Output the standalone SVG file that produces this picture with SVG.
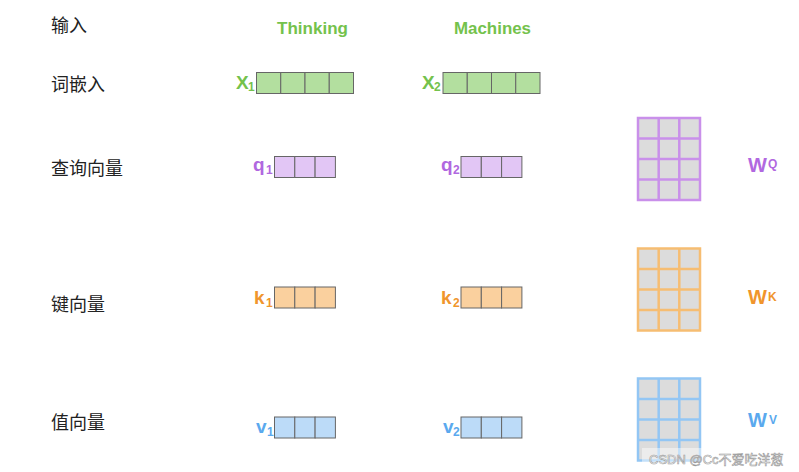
<svg xmlns="http://www.w3.org/2000/svg" width="799" height="472" viewBox="0 0 799 472">
<style>
.lbl{font-family:"Noto Sans CJK SC","Noto Sans",sans-serif;font-size:18px;fill:#222}
.word{font-family:"Liberation Sans",Arial,sans-serif;font-size:17px;font-weight:bold;fill:#74c24c}
.vn{font-family:"Liberation Sans",Arial,sans-serif;font-size:19px;font-weight:bold}
.sub{font-family:"Liberation Sans",Arial,sans-serif;font-size:12px;font-weight:bold}
.wn{font-family:"Liberation Sans",Arial,sans-serif;font-size:20px;font-weight:bold}
.sup{font-family:"Liberation Sans",Arial,sans-serif;font-size:12px;font-weight:bold}
.cell{stroke:#666;stroke-width:1}
.g{fill:#b3df9f}.p{fill:#e2c6f5}.o{fill:#fad09e}.b{fill:#bcdbf8}
.tg{fill:#74c24c}.tp{fill:#b168e0}.to{fill:#f0952c}.tb{fill:#5aa9ee}
.mat{fill:#dcdcdc}
.mp{stroke:#c990ea;stroke-width:2.5;fill:none}
.mo{stroke:#f6bd72;stroke-width:2.5;fill:none}
.mb{stroke:#93c6f4;stroke-width:2.5;fill:none}
</style>
<rect width="799" height="472" fill="#ffffff"/>

<g id="row-labels">
<text class="lbl" x="51" y="32">输入</text>
<text class="lbl" x="51" y="91">词嵌入</text>
<text class="lbl" x="51" y="175">查询向量</text>
<text class="lbl" x="51" y="311">键向量</text>
<text class="lbl" x="51" y="429">值向量</text>
</g>

<g id="word-thinking"><text class="word" x="277" y="34" textLength="71" lengthAdjust="spacingAndGlyphs">Thinking</text></g>
<g id="word-machines"><text class="word" x="454" y="34" textLength="77" lengthAdjust="spacingAndGlyphs">Machines</text></g>

<g id="x1">
<text class="vn tg" x="236" y="89">X</text><text class="sub tg" x="248" y="91">1</text>
<rect class="cell g" x="256.5" y="72.5" width="24.25" height="21"/>
<rect class="cell g" x="280.75" y="72.5" width="24.25" height="21"/>
<rect class="cell g" x="305" y="72.5" width="24.25" height="21"/>
<rect class="cell g" x="329.25" y="72.5" width="24.25" height="21"/>
</g>
<g id="x2">
<text class="vn tg" x="422" y="89">X</text><text class="sub tg" x="434" y="91">2</text>
<rect class="cell g" x="443" y="72.5" width="24.25" height="21"/>
<rect class="cell g" x="467.25" y="72.5" width="24.25" height="21"/>
<rect class="cell g" x="491.5" y="72.5" width="24.25" height="21"/>
<rect class="cell g" x="515.75" y="72.5" width="24.25" height="21"/>
</g>

<g id="q1">
<text class="vn tp" x="253" y="171">q</text><text class="sub tp" x="266" y="174">1</text>
<rect class="cell p" x="274.5" y="156.5" width="20.3" height="21"/>
<rect class="cell p" x="294.8" y="156.5" width="20.3" height="21"/>
<rect class="cell p" x="315.1" y="156.5" width="20.3" height="21"/>
</g>
<g id="q2">
<text class="vn tp" x="441" y="171">q</text><text class="sub tp" x="453" y="174">2</text>
<rect class="cell p" x="461" y="156.5" width="20.3" height="21"/>
<rect class="cell p" x="481.3" y="156.5" width="20.3" height="21"/>
<rect class="cell p" x="501.6" y="156.5" width="20.3" height="21"/>
</g>

<g id="k1">
<text class="vn to" x="254" y="304">k</text><text class="sub to" x="266" y="307">1</text>
<rect class="cell o" x="274.5" y="287" width="20.3" height="21"/>
<rect class="cell o" x="294.8" y="287" width="20.3" height="21"/>
<rect class="cell o" x="315.1" y="287" width="20.3" height="21"/>
</g>
<g id="k2">
<text class="vn to" x="441" y="304">k</text><text class="sub to" x="453" y="307">2</text>
<rect class="cell o" x="461" y="287" width="20.3" height="21"/>
<rect class="cell o" x="481.3" y="287" width="20.3" height="21"/>
<rect class="cell o" x="501.6" y="287" width="20.3" height="21"/>
</g>

<g id="v1">
<text class="vn tb" x="256" y="433">v</text><text class="sub tb" x="267" y="436">1</text>
<rect class="cell b" x="274.5" y="417" width="20.3" height="21"/>
<rect class="cell b" x="294.8" y="417" width="20.3" height="21"/>
<rect class="cell b" x="315.1" y="417" width="20.3" height="21"/>
</g>
<g id="v2">
<text class="vn tb" x="443" y="433">v</text><text class="sub tb" x="453" y="436">2</text>
<rect class="cell b" x="461" y="417" width="20.3" height="21"/>
<rect class="cell b" x="481.3" y="417" width="20.3" height="21"/>
<rect class="cell b" x="501.6" y="417" width="20.3" height="21"/>
</g>

<g id="wq">
<rect class="mat" x="638" y="118" width="62" height="82"/>
<path class="mp" d="M638,118H700V200H638Z M658.7,118V200 M679.3,118V200 M638,138.5H700 M638,159H700 M638,179.5H700"/>
<text class="wn tp" x="748" y="172">W</text><text class="sup tp" x="768" y="168">Q</text>
</g>
<g id="wk">
<rect class="mat" x="638" y="248.5" width="62" height="82"/>
<path class="mo" d="M638,248.5H700V330.5H638Z M658.7,248.5V330.5 M679.3,248.5V330.5 M638,269H700 M638,289.5H700 M638,310H700"/>
<text class="wn to" x="748" y="304">W</text><text class="sup to" x="768" y="301">K</text>
</g>
<g id="wv">
<rect class="mat" x="638" y="378.5" width="62" height="82"/>
<path class="mb" d="M638,378.5H700V460.5H638Z M658.7,378.5V460.5 M679.3,378.5V460.5 M638,399H700 M638,419.5H700 M638,440H700"/>
<text class="wn tb" x="748" y="427">W</text><text class="sup tb" x="769" y="424">V</text>
</g>

<g id="connectors"></g>

<g id="watermark">
<rect x="642" y="448" width="157" height="24" fill="#ffffff" fill-opacity="0.45"/>
<text x="649" y="464" font-family="'Liberation Sans','Noto Sans CJK SC',sans-serif" font-size="13" fill="#ffffff" stroke="#9a9a9a" stroke-width="0.6">CSDN @Cc不爱吃洋葱</text>
</g>
</svg>
